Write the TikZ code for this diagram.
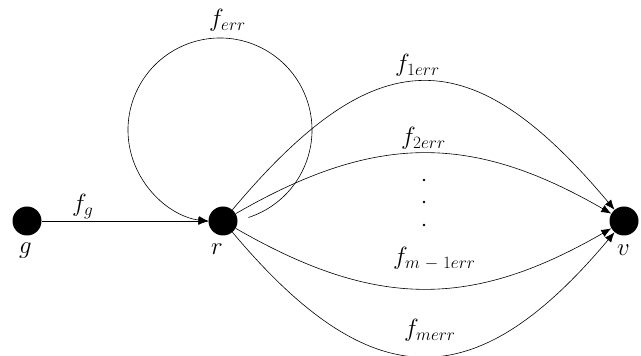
\documentclass[tikz,border=0pt]{standalone}
\usetikzlibrary{arrows.meta}
\DeclareMathSizes{25}{25}{19}{15}
\tikzset{
  state/.style={circle, fill=black, minimum size=29pt, inner sep=0pt},
  flow/.style={-{Latex[length=10pt,width=8pt]}, line width=0.6pt},
  lab/.style={anchor=base west, inner sep=0pt},
  every node/.append style={font=\fontsize{25}{30}\selectfont}
}
\begin{document}
\begin{tikzpicture}[x=1pt,y=1pt]
\useasboundingbox (0,0) rectangle (641,356);
% States
\node[state] (g) at (27,135) {};
\node[state] (r) at (223,135) {};
\node[state] (v) at (624,135) {};
\node[lab] (glab) at (19,102) {$g$};
\node[lab] (rlab) at (211,101) {$r$};
\node[lab] (vlab) at (617,100) {$v$};
% g -> r
\draw[flow] (g) -- (r);
\node[lab] (fg) at (72,144) {$f_{g}$};
% Self loop on r
\coordinate (loopc) at (220,226);
\draw[flow] ([shift={(-72:92)}]loopc) arc[start angle=-72, end angle=263, radius=92];
\node[lab] (ferr) at (209,329) {$f_{err}$};
% r -> v, m parallel flows
\draw[flow] (r) to[out=50, in=130, looseness=1.5] (v);
\draw[flow] (r) to[out=30, in=150, looseness=1.1] (v);
\draw[flow] (r) to[out=-30, in=-150, looseness=1.1] (v);
\draw[flow] (r) to[out=-50, in=-130, looseness=1.45] (v);
\node[lab] (f1) at (395,284) {$f_{1err}$};
\node[lab] (f2) at (401,211) {$f_{2err}$};
\node[lab] (fm1) at (393,91) {$f_{m\mkern5mu-\mkern5mu1err}$};
\node[lab] (fm) at (404,19) {$f_{merr}$};
% Dots
\foreach \y in {176,154,131}
  \fill (424,\y) circle (1.4pt);
\end{tikzpicture}
\end{document}
